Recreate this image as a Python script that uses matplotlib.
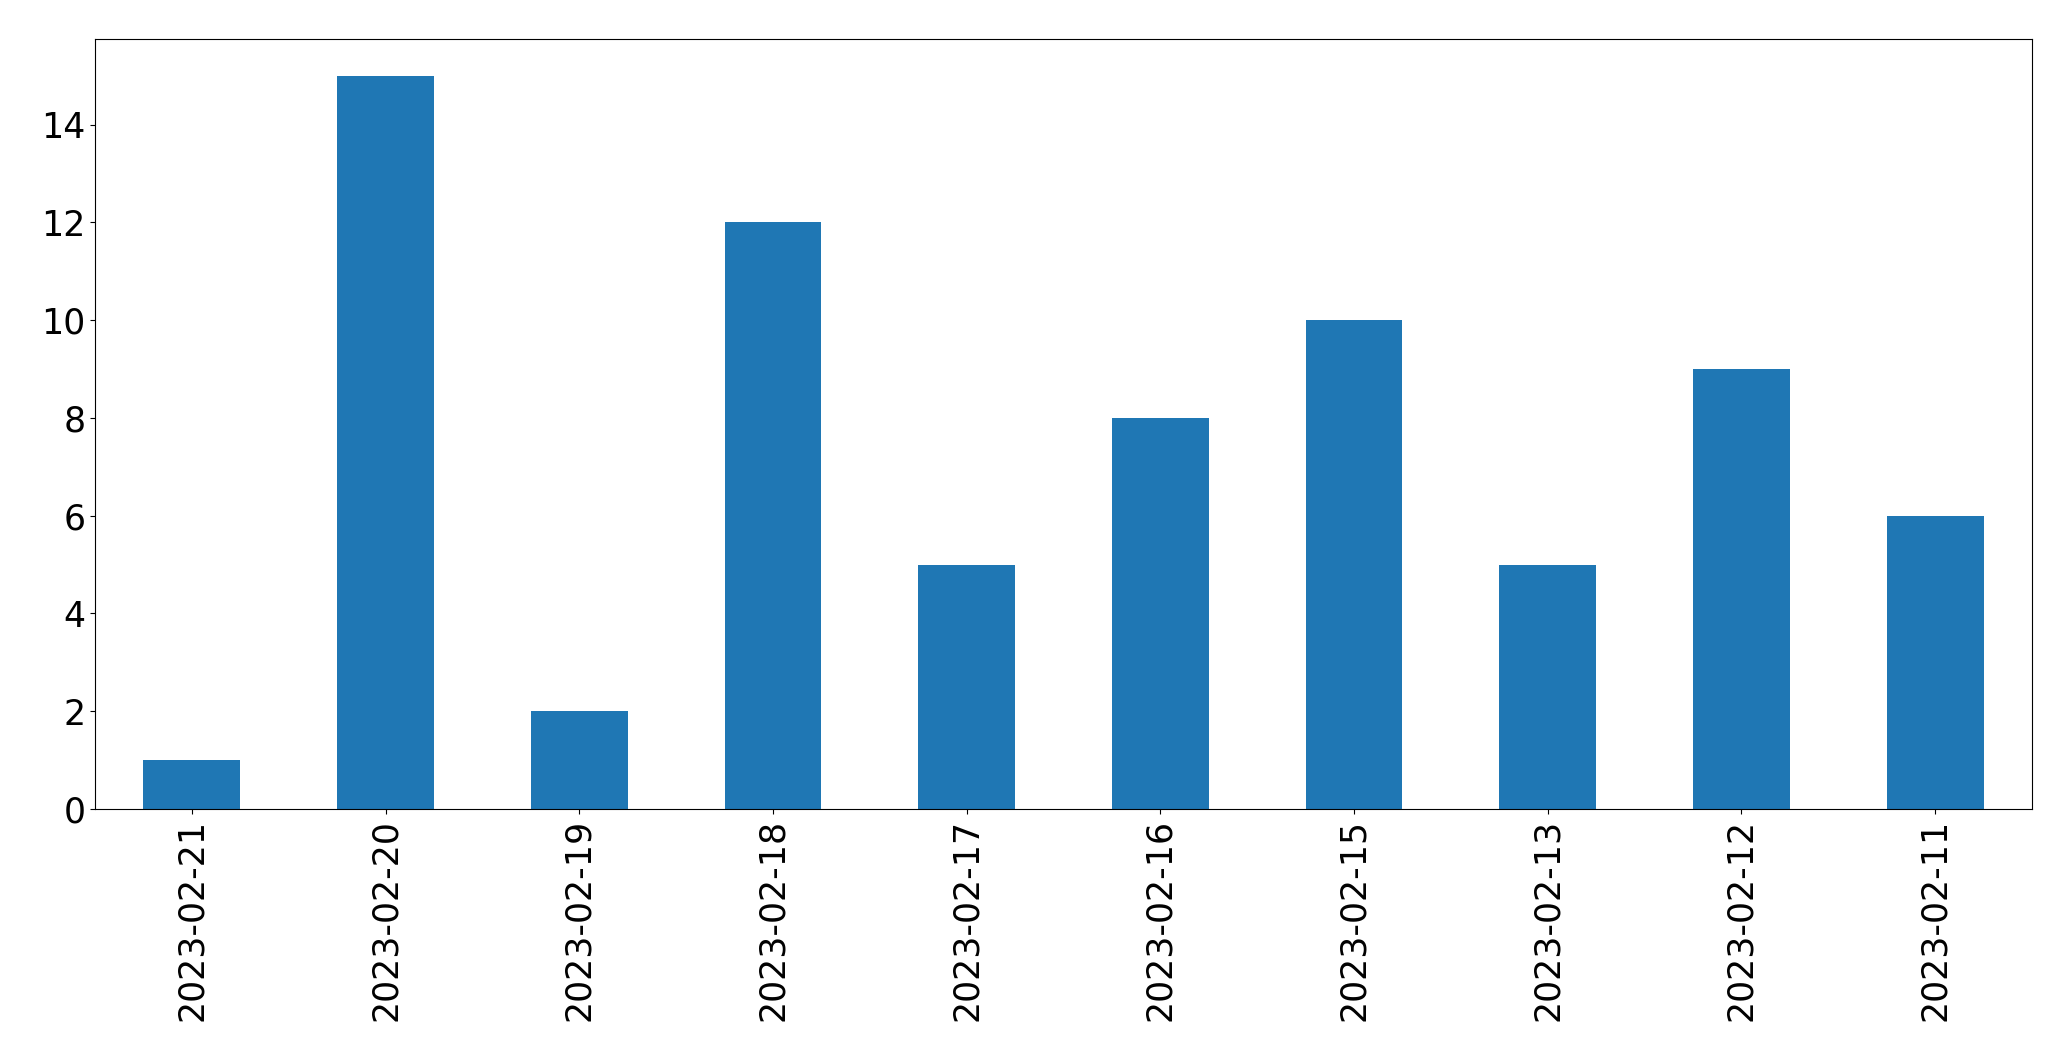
import matplotlib
matplotlib.use("Agg")
import matplotlib.pyplot as plt

dates = ["2023-02-21", "2023-02-20", "2023-02-19", "2023-02-18", "2023-02-17",
         "2023-02-16", "2023-02-15", "2023-02-13", "2023-02-12", "2023-02-11"]
counts = [1, 15, 2, 12, 5, 8, 10, 5, 9, 6]

fig = plt.figure(figsize=(20.71, 10.61), dpi=100)
ax = fig.add_axes([95 / 2071, 1 - 809 / 1061, 1937 / 2071, 770 / 1061])

x = range(len(dates))
ax.bar(x, counts, width=0.5, color="#1f77b4")
ax.set_xlim(-0.5, len(dates) - 0.5)
ax.set_ylim(0, max(counts) * 1.05)
ax.set_xticks(list(x))
ax.set_xticklabels(dates, rotation=90)
ax.tick_params(axis="both", labelsize=25)

fig.savefig("out.png", dpi=100)
